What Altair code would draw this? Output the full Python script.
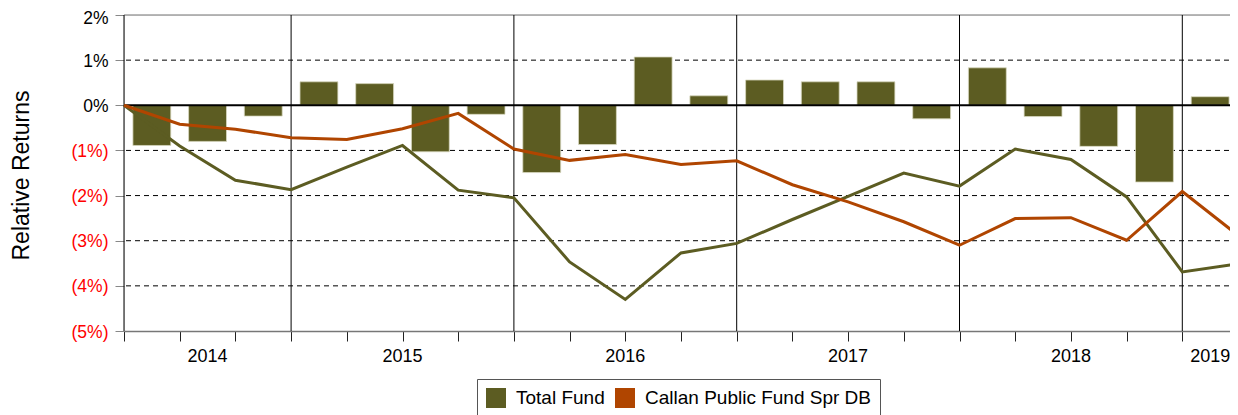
import altair as alt
import pandas as pd

# ---- data ----
quarters = ["2014 Q1", "2014 Q2", "2014 Q3", "2014 Q4", "2015 Q1", "2015 Q2", "2015 Q3", "2015 Q4",
            "2016 Q1", "2016 Q2", "2016 Q3", "2016 Q4", "2017 Q1", "2017 Q2", "2017 Q3", "2017 Q4",
            "2018 Q1", "2018 Q2", "2018 Q3", "2018 Q4", "2019 Q1"]
# quarterly relative returns of Total Fund (bars, one per quarter after the first point)
total_fund_bars = [-0.89, -0.80, -0.24, 0.52, 0.48, -1.03, -0.20, -1.49, -0.87, 1.07,
                   0.21, 0.56, 0.52, 0.52, -0.30, 0.83, -0.25, -0.91, -1.70, 0.19]
# cumulative relative returns (lines, at quarter ends)
total_fund_cum = [0.0, -0.90, -1.66, -1.87, -1.37, -0.89, -1.88, -2.05, -3.47, -4.30, -3.27,
                  -3.06, -2.53, -2.02, -1.50, -1.79, -0.97, -1.20, -2.03, -3.69, -3.51]
callan_cum = [0.0, -0.42, -0.53, -0.72, -0.76, -0.52, -0.18, -0.97, -1.22, -1.09, -1.31,
              -1.23, -1.76, -2.14, -2.58, -3.10, -2.51, -2.49, -2.99, -1.91, -2.88]
years = ["2014", "2015", "2016", "2017", "2018", "2019"]
year_centers = [1.5, 5, 9, 13, 17, 19.5]
year_breaks = [0, 3, 7, 11, 15, 19, 20]
dashed_levels = [1, -1, -2, -3, -4]
series_names = ["Total Fund", "Callan Public Fund Spr DB"]
series_colors = ["#5C5C22", "#B04500"]

FONT = "Liberation Sans"
W, H = 1114, 316

bars_df = pd.DataFrame({
    "quarter": quarters[1:],
    "start": [i + 0.16 for i in range(len(total_fund_bars))],
    "end": [i + 0.84 for i in range(len(total_fund_bars))],
    "value": total_fund_bars,
    "series": "Total Fund",
})
tf_df = pd.DataFrame({"idx": list(range(len(quarters))), "quarter": quarters, "value": total_fund_cum})
cal_df = pd.DataFrame({"idx": list(range(len(quarters))), "quarter": quarters, "value": callan_cum})
years_df = pd.DataFrame({"year": years, "pos": year_centers})
breaks_df = pd.DataFrame({"pos": year_breaks})
dash_df = pd.DataFrame({"level": dashed_levels})

xscale = alt.Scale(domain=[0, 20], nice=False, zero=False)
yscale = alt.Scale(domain=[-5, 2], nice=False, zero=False)

x_axis = alt.Axis(values=list(range(21)), labels=False, title=None, grid=False,
                  domain=True, domainColor="#777777", domainWidth=1.5,
                  ticks=True, tickSize=10, tickColor="#222222", tickWidth=1)
y_axis = alt.Axis(values=[-5, -4, -3, -2, -1, 0, 1, 2], grid=False, domain=False,
                  ticks=True, tickSize=9, tickColor="#888888",
                  labelExpr="datum.value < 0 ? '(' + abs(datum.value) + '%)' : datum.value + '%'",
                  labelColor={"condition": {"test": "datum.value < 0", "value": "#FF0000"}, "value": "#000000"},
                  labelOffset={"condition": {"test": "datum.value == 2", "value": 3}, "value": 1},
                  labelFontSize=17.5, labelFont=FONT, labelPadding=7,
                  title="Relative Returns", titleFontSize=23, titleFont=FONT,
                  titleFontWeight="normal", titleColor="#000000",
                  titleX=-103, titleY=160, titleAngle=-90, titleBaseline="middle", titleAlign="center")

dashes = alt.Chart(dash_df).mark_rule(color="#000000", strokeWidth=1, strokeDash=[5, 4]).encode(
    y=alt.Y("level:Q", scale=yscale, axis=y_axis),
)
top_line = alt.Chart(pd.DataFrame({"level": [2]})).mark_rule(color="#A0A0A0", strokeWidth=1.5).encode(
    y=alt.Y("level:Q", scale=yscale),
)
vlines = alt.Chart(breaks_df).mark_rule(color="#000000", strokeWidth=1).encode(
    x=alt.X("pos:Q", scale=xscale, axis=x_axis),
    y=alt.value(0),
    y2=alt.value(H),
)
bars = alt.Chart(bars_df).mark_rect(stroke="#D8D8C0", strokeWidth=0.8).encode(
    x=alt.X("start:Q", scale=xscale),
    x2="end:Q",
    y=alt.Y("value:Q", scale=yscale),
    y2=alt.datum(0),
    color=alt.Color("series:N", scale=alt.Scale(domain=series_names, range=series_colors),
                    legend=alt.Legend(title=None, orient="none", legendX=353, legendY=364,
                                      direction="horizontal", symbolType="square",
                                      symbolSize=400, symbolStrokeWidth=0,
                                      labelFontSize=19, labelFont=FONT, labelColor="#000000",
                                      labelLimit=400, labelOffset=10, columnPadding=10,
                                      strokeColor="#555555", padding=9)),
)
zero_line = alt.Chart(pd.DataFrame({"level": [0]})).mark_rule(color="#000000", strokeWidth=2).encode(
    y=alt.Y("level:Q", scale=yscale),
)
tf_line = alt.Chart(tf_df).mark_line(color=series_colors[0], strokeWidth=3).encode(
    x=alt.X("idx:Q", scale=xscale),
    y=alt.Y("value:Q", scale=yscale),
)
cal_line = alt.Chart(cal_df).mark_line(color=series_colors[1], strokeWidth=3).encode(
    x=alt.X("idx:Q", scale=xscale),
    y=alt.Y("value:Q", scale=yscale),
)
year_text = alt.Chart(years_df).mark_text(fontSize=18, font=FONT, color="#000000",
                                          baseline="alphabetic", align="center").encode(
    x=alt.X("pos:Q", scale=xscale),
    y=alt.value(347),
    text="year:N",
)

chart = alt.layer(dashes, top_line, vlines, bars, zero_line, tf_line, cal_line, year_text).properties(
    width=W, height=H,
    autosize=alt.AutoSizeParams(type="none"),
    padding={"left": 116, "top": 7, "right": -8, "bottom": 84},
).configure_view(stroke=None).configure(font=FONT)

chart.save("out.html", embed_options={"renderer": "svg", "actions": False})
